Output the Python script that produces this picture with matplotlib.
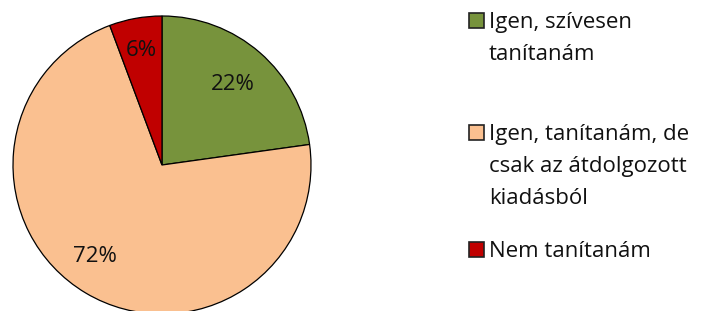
import numpy as np
import matplotlib
matplotlib.use('Agg')
import matplotlib.pyplot as plt
from matplotlib.patches import Rectangle

plt.rcParams['font.family'] = ['Open Sans', 'DejaVu Sans']

labels = ['Igen, szívesen\ntanítanám',
          'Igen, tanítanám, de\ncsak az átdolgozott\nkiadásból',
          'Nem tanítanám']
values = [22.8, 71.5, 5.7]
pct_text = ['22%', '72%', '6%']
colors = ['#77933C', '#FAC090', '#C00000']

W, H = 704, 311
fig = plt.figure(figsize=(W / 100, H / 100), dpi=100)

# pie: centre (162,165) px, radius 149 px
cx, cy, r = 162, 165, 149
ax = fig.add_axes([(cx - r) / W, (H - cy - r) / H, 2 * r / W, 2 * r / H])
wedges, _ = ax.pie(values, colors=colors, startangle=90, counterclock=False,
                   wedgeprops=dict(edgecolor='black', linewidth=0.9))

# data labels, placed along each wedge's mid angle
lab_dist = [0.72, 0.76, 0.78]
lab_shift = [0, -5.5, 0]   # degrees
for w, s, d, sh in zip(wedges, pct_text, lab_dist, lab_shift):
    mid = np.deg2rad((w.theta1 + w.theta2) / 2 + sh)
    ax.text(d * np.cos(mid), d * np.sin(mid), s, fontsize=16,
            ha='center', va='center', color='#111111')
ax.set_xlim(-1, 1); ax.set_ylim(-1, 1)
ax.set_aspect('equal')

# legend, drawn by hand so the box sits on the first line
legend_base = [28, 140, 257]
line_step = 32
for lab, col, y in zip(labels, colors, legend_base):
    fig.patches.append(Rectangle((469 / W, (H - y) / H), 15 / W, 15 / H,
                                 transform=fig.transFigure, facecolor=col,
                                 edgecolor='#222222', linewidth=1.2))
    for i, line in enumerate(lab.split('\n')):
        fig.text(489 / W, (H - y - i * line_step) / H, line, fontsize=16,
                 va='baseline', ha='left', color='#111111',
                 transform=fig.transFigure)

fig.savefig('out.png', dpi=100)
